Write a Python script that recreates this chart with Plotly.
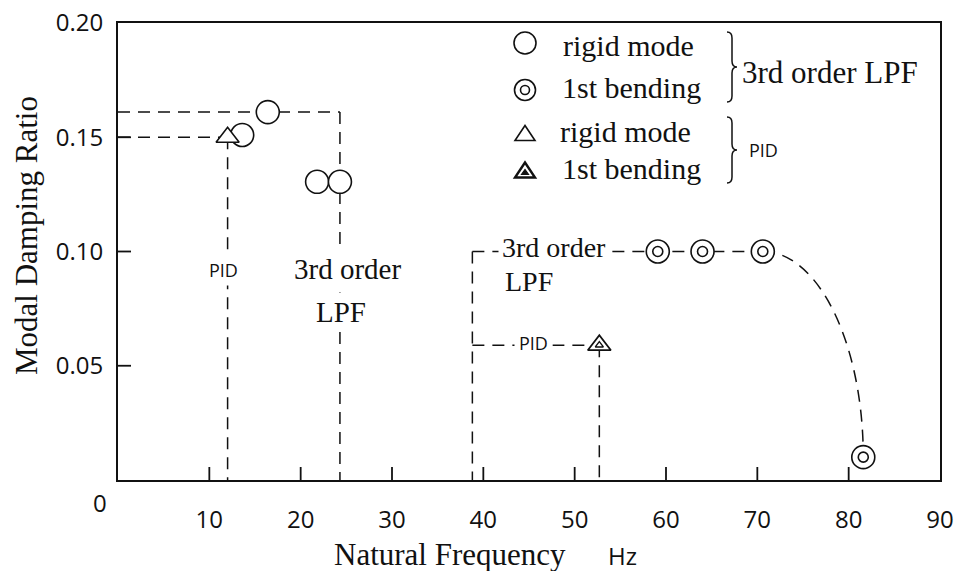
import plotly.graph_objects as go

# ---------------- data ----------------
lpf_rigid_f = [13.6, 16.4, 21.8, 24.3]
lpf_rigid_z = [0.151, 0.161, 0.1305, 0.1305]

lpf_bend_f = [59.1, 64.0, 70.6, 81.6]
lpf_bend_z = [0.100, 0.100, 0.100, 0.010]

pid_rigid_f = [12.0]
pid_rigid_z = [0.150]

pid_bend_f = [52.7]
pid_bend_z = [0.059]

x_tickvals = [10, 20, 30, 40, 50, 60, 70, 80, 90]
y_tickvals = [0.05, 0.10, 0.15, 0.20]
y_ticktext = ["0.05", "0.10", "0.15", "0.20"]

bracket_f = 38.8  # start of the right-hand guide brackets

# ---------------- layout geometry ----------------
W, H = 954, 571
L, R, T, B = 118, 940, 23, 480
TICKLEN = 13


def px(x):
    return (x - L) / (R - L)


def py(y):
    return (B - y) / (B - T)


SERIF = "Liberation Serif, Times New Roman, serif"
SANS = "Open Sans, DejaVu Sans, sans-serif"
BLACK = "#111111"

fig = go.Figure()

# markers
fig.add_trace(go.Scatter(x=lpf_rigid_f, y=lpf_rigid_z, mode="markers",
                         marker=dict(symbol="circle", size=23, color="white",
                                     line=dict(color=BLACK, width=1.6)),
                         showlegend=False, hoverinfo="x+y"))
fig.add_trace(go.Scatter(x=lpf_bend_f, y=lpf_bend_z, mode="markers",
                         marker=dict(symbol="circle", size=23, color="white",
                                     line=dict(color=BLACK, width=1.6)),
                         showlegend=False, hoverinfo="x+y"))
fig.add_trace(go.Scatter(x=lpf_bend_f, y=lpf_bend_z, mode="markers",
                         marker=dict(symbol="circle", size=10, color="white",
                                     line=dict(color=BLACK, width=1.6)),
                         showlegend=False, hoverinfo="skip"))
fig.add_trace(go.Scatter(x=pid_rigid_f, y=pid_rigid_z, mode="markers",
                         marker=dict(symbol="triangle-up", size=20, color="white",
                                     line=dict(color=BLACK, width=1.6)),
                         showlegend=False, hoverinfo="x+y"))
fig.add_trace(go.Scatter(x=pid_bend_f, y=pid_bend_z, mode="markers",
                         marker=dict(symbol="triangle-up", size=20, color="white",
                                     line=dict(color=BLACK, width=1.8)),
                         showlegend=False, hoverinfo="x+y"))
fig.add_trace(go.Scatter(x=pid_bend_f, y=pid_bend_z, mode="markers",
                         marker=dict(symbol="triangle-up", size=7, color="white",
                                     line=dict(color=BLACK, width=1.4)),
                         showlegend=False, hoverinfo="skip"))

# dashed guide lines (data coordinates)
DASH = dict(color=BLACK, width=1.5, dash="12px,8px")
zmax = max(lpf_rigid_z)
guides = [
    (0, pid_rigid_z[0], pid_rigid_f[0], pid_rigid_z[0]),
    (pid_rigid_f[0], pid_rigid_z[0], pid_rigid_f[0], 0),
    (0, zmax, lpf_rigid_f[-1], zmax),
    (lpf_rigid_f[-1], zmax, lpf_rigid_f[-1], 0),
    (bracket_f, lpf_bend_z[0], bracket_f, 0),
    (bracket_f, lpf_bend_z[0], lpf_bend_f[2], lpf_bend_z[2]),
    (bracket_f, pid_bend_z[0], pid_bend_f[0], pid_bend_z[0]),
    (pid_bend_f[0], pid_bend_z[0], pid_bend_f[0], 0),
]
for x0, y0, x1, y1 in guides:
    fig.add_shape(type="line", xref="x", yref="y", x0=x0, y0=y0, x1=x1, y1=y1,
                  line=DASH, layer="below")

# curved guide from the last flat 1st-bending point down to the last one
fa, za = lpf_bend_f[2], lpf_bend_z[2]
fb, zb = lpf_bend_f[3], lpf_bend_z[3]
k = 0.552
curve = (f"M {fa},{za} C {fa + k * (fb - fa)},{za} {fb},{zb + k * (za - zb)} {fb},{zb}")
fig.add_shape(type="path", xref="x", yref="y", path=curve, line=DASH, layer="below")

# inward tick marks, placed at the tick values through the axes
TK = dict(color=BLACK, width=1.8)
for v in x_tickvals[:-1]:
    fig.add_shape(type="line", xref="x", yref="paper", x0=v, x1=v,
                  y0=0, y1=TICKLEN / (B - T), line=TK, layer="above")
for v in y_tickvals[:-1]:
    fig.add_shape(type="line", xref="paper", yref="y", x0=0, x1=TICKLEN / (R - L),
                  y0=v, y1=v, line=TK, layer="above")

# ---------------- legend drawn as shapes ----------------
LW = dict(color=BLACK, width=1.6)


def circ(cx, cy, d):
    fig.add_shape(type="circle", xref="paper", yref="paper",
                  x0=px(cx - d / 2), x1=px(cx + d / 2),
                  y0=py(cy + d / 2), y1=py(cy - d / 2), line=LW,
                  fillcolor="white")


def tri(cx, cy, w, h, width=1.6, fill="white"):
    p = (f"M {px(cx - w / 2)},{py(cy + h / 2)} L {px(cx + w / 2)},{py(cy + h / 2)} "
         f"L {px(cx)},{py(cy - h / 2)} Z")
    fig.add_shape(type="path", xref="paper", yref="paper", path=p,
                  line=dict(color=BLACK, width=width), fillcolor=fill)


def brace(x, y0, y1, w=10):
    ym = (y0 + y1) / 2
    xm = x + w / 2
    pts = [
        ("M", [(x, y0)]),
        ("Q", [(xm, y0), (xm, y0 + 6)]),
        ("L", [(xm, ym - 6)]),
        ("Q", [(xm, ym), (x + w, ym)]),
        ("Q", [(xm, ym), (xm, ym + 6)]),
        ("L", [(xm, y1 - 6)]),
        ("Q", [(xm, y1), (x, y1)]),
    ]
    s = " ".join(c + " " + " ".join(f"{px(a)},{py(b)}" for a, b in ps) for c, ps in pts)
    fig.add_shape(type="path", xref="paper", yref="paper", path=s,
                  line=dict(color=BLACK, width=1.5))


circ(525, 43, 22)
circ(525, 90, 21)
circ(525, 90, 9)
tri(525, 133, 20, 15)
tri(525, 170, 20, 15, width=2.4)
tri(525, 172, 7, 5, width=1.2, fill=BLACK)
brace(727, 32, 102)
brace(727, 117, 183)

# ---------------- texts ----------------
def txt(text, x, y, size, family=SERIF, xanchor="center", bg=None, angle=0, pad=1):
    fig.add_annotation(text=text, xref="paper", yref="paper", x=px(x), y=py(y),
                       xanchor=xanchor, yanchor="middle", showarrow=False,
                       textangle=angle, borderpad=pad,
                       bgcolor=bg if bg else "rgba(0,0,0,0)",
                       font=dict(family=family, size=size, color=BLACK))


txt("rigid mode", 561, 45, 30, xanchor="left")
txt("1st bending", 560, 88, 30, xanchor="left")
txt("rigid mode", 558, 132, 30, xanchor="left")
txt("1st bending", 560, 169, 30, xanchor="left")
txt("3rd order LPF", 740, 72, 31, xanchor="left")
txt("PID", 763, 150, 18, family=SANS)

txt("PID", 223, 270, 18, family=SANS, bg="white", pad=3)
txt("3rd order", 347, 269, 29, bg="white", pad=3)
txt("LPF", 341, 312, 29, bg="white", pad=3)
txt("3rd order", 498, 247, 28, xanchor="left", bg="white", pad=3)
txt("LPF", 503, 281, 28, xanchor="left")
txt("PID", 533, 343, 18, family=SANS, bg="white", pad=4)

txt("Natural Frequency", 332, 554, 31, xanchor="left")
txt("Hz", 622, 555, 24, family=SANS)
txt("Modal Damping Ratio", 27, 236, 31, angle=-90)
txt("0", 100, 503, 24, family=SANS)

fig.update_layout(
    width=W, height=H,
    margin=dict(l=L, r=W - R, t=T, b=H - B, autoexpand=False),
    paper_bgcolor="white", plot_bgcolor="white",
    showlegend=False,
    xaxis=dict(range=[0, 90], tickvals=x_tickvals, ticks="",
               showgrid=False, zeroline=False,
               showline=True, linecolor=BLACK, linewidth=2, mirror=True,
               automargin=False, ticklabelstandoff=17,
               tickfont=dict(family=SANS, size=24, color=BLACK)),
    yaxis=dict(range=[0, 0.2], tickvals=y_tickvals, ticktext=y_ticktext,
               ticks="", showgrid=False, zeroline=False, showline=True,
               linecolor=BLACK, linewidth=2, mirror=True, automargin=False,
               ticklabelstandoff=8,
               tickfont=dict(family=SANS, size=24, color=BLACK)),
)

fig.write_html("out.html", config={"displayModeBar": False},
               post_script="document.body.style.margin='0px';"
                           "document.body.style.overflow='hidden';")
